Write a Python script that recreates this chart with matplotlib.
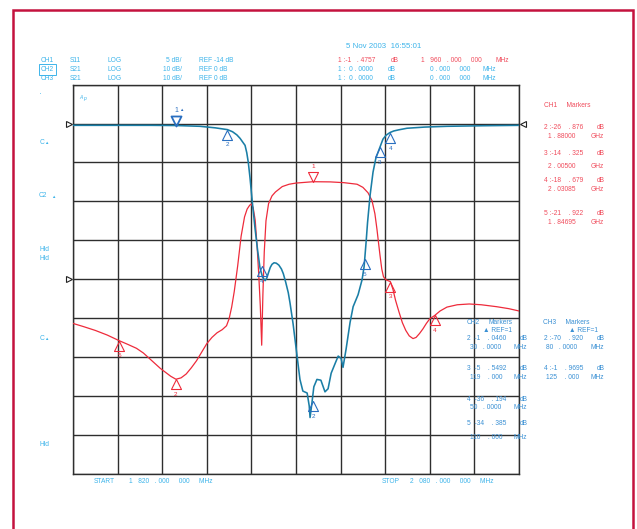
import matplotlib
matplotlib.use('Agg')
import matplotlib.pyplot as plt
import numpy as np
from matplotlib.path import Path
from matplotlib.patches import Rectangle
from matplotlib.transforms import blended_transform_factory

plt.rcParams['font.family'] = ['Liberation Sans', 'DejaVu Sans']

# ---------------- data ----------------
start_mhz, stop_mhz = 1820, 2080
ch1_ref_db, ch1_scale = -14, 5      # S11, 5 dB/div
ch2_ref_db, ch2_scale = 0, 10       # S21, 10 dB/div

s11_freq = [1820, 1826, 1833, 1840, 1846.95, 1852, 1857, 1861, 1865, 1868, 1871, 1874,
            1877, 1880, 1883, 1886, 1889, 1892, 1895, 1898, 1901, 1904, 1907, 1909.5,
            1911, 1912.5, 1914, 1916, 1918, 1920, 1921.5, 1923, 1924, 1925, 1926.2,
            1927.3, 1928.3, 1929.2, 1930.0, 1930.7, 1931.5, 1932.5, 1934, 1936, 1938,
            1942, 1946, 1950, 1960, 1970, 1978, 1985.6, 1989, 1992, 1994.3, 1996,
            1997.2, 1998.2, 1999, 2000, 2001, 2002.5, 2005, 2006.5, 2008, 2010, 2012,
            2014, 2016, 2018.2, 2020, 2022, 2024, 2026, 2028, 2030.85, 2034, 2038,
            2044, 2051, 2058, 2067, 2074, 2080]
s11_db = [-19.7, -20.1, -20.6, -21.2, -21.922, -22.4, -22.9, -23.5, -24.3, -24.9, -25.5, -26.0,
          -26.5, -26.876, -26.7, -26.2, -25.4, -24.5, -23.4, -22.3, -21.5, -20.9, -20.5, -20.0,
          -19.1, -17.6, -15.6, -12.3, -8.5, -6.0, -5.0, -4.5, -4.35, -4.8, -6.4,
          -9.7, -13.5, -17.5, -22.5, -16.0, -10.5, -6.5, -4.3, -3.3, -2.8,
          -2.1, -1.8, -1.65, -1.4757, -1.5, -1.6, -1.8, -2.2, -2.9, -3.9, -5.6,
          -7.6, -9.5, -11.0, -12.7, -13.7, -14.1, -14.325, -15.3, -16.7, -18.2, -19.6,
          -20.6, -21.3, -21.65, -21.5, -21.0, -20.4, -19.7, -19.1, -18.679, -18.1, -17.6,
          -17.3, -17.2, -17.3, -17.55, -17.8, -18.1]

s21_freq = [1820, 1840, 1865, 1880, 1894, 1903, 1910, 1913, 1915.5, 1917.4, 1919, 1920.3,
            1921.3, 1922.2, 1923.2, 1924.6, 1926.1, 1927.6, 1929.0, 1930.5, 1932.0, 1933,
            1934, 1935, 1936, 1937.2, 1938.5, 1940, 1941.5, 1942.6, 1944, 1945.5, 1946.5,
            1948.3, 1950.4, 1952.3, 1954, 1956.5, 1957.7, 1958.2, 1959.3, 1960.4, 1962.2,
            1964.5, 1965.7, 1966.9, 1968.7, 1970.5, 1972.9, 1974.6, 1976.3, 1977.4,
            1979.2, 1981.5, 1983.3, 1986.2, 1988.5, 1989.7, 1990.9, 1991.7, 1993.2,
            1994.9, 1996.5, 1997.8, 1999.0, 2000.7, 2002.5, 2004.8, 2007, 2010, 2014.7,
            2025, 2038, 2060, 2080]
s21_db = [-0.45, -0.45, -0.45, -0.5, -0.7, -1.1, -1.55, -2.1, -2.9, -3.8, -4.8, -5.6,
          -7.5, -10.0, -14.0, -20.5, -26.9, -32.5, -37.1, -39.5, -40.4, -39.7,
          -38.3, -37.0, -36.2, -35.8, -35.9, -36.4, -37.4, -38.6, -40.8, -43.5, -46.1,
          -51.5, -59.0, -65.8, -68.8, -69.3, -72.6, -75.6, -71.8, -67.7, -65.8,
          -66.0, -67.5, -69.0, -68.2, -64.2, -61.6, -59.8, -60.4, -62.7,
          -58.0, -51.2, -47.1, -44.0, -40.2, -36.8, -30.3, -25.5, -18.4,
          -12.5, -9.0, -7.4, -6.0, -4.0, -3.0, -2.3, -1.9, -1.6, -1.2,
          -0.9, -0.7, -0.55, -0.45]

# CH1 markers (absolute)
ch1_mk_no = ['1', '2', '3', '4', '5']
ch1_mk_freq = [1960, 1880, 2005, 2030.85, 1846.95]
ch1_mk_db = [-1.4757, -26.876, -14.325, -18.679, -21.922]

# CH2 / CH3 markers (delta to marker 1 at 1880 MHz)
mk1_freq, mk1_db = 1880, -0.5
ch2_mk_no = ['2', '3', '4', '5']
ch2_mk_dfreq = [30, 119, 50, 110]
ch2_mk_ddb = [-1.0460, -5.5492, -36.194, -34.385]
ch3_mk_no = ['2', '4']
ch3_mk_dfreq = [80, 125]
ch3_mk_ddb = [-70.920, -1.9695]

# ---------------- style ----------------
W, H = 637, 529
C_TXT = '#3db4ea'
C_TXT2 = '#3a90d4'
C_RED_T = '#f04c5c'
C_RED = '#ee2b3b'
C_BLUE = '#1a7ea6'
C_MK = '#2a6fc0'
C_GRID = '#2e2e2e'
C_BORDER = '#c4123e'
FS = 4.8

fig = plt.figure(figsize=(W / 100, H / 100), dpi=100)
fig.patch.set_facecolor('white')

def px(x, y):
    return x / W, 1 - y / H

def t(x, y, s, color=C_TXT, size=FS, ha='left', **kw):
    fig.text(*px(x, y), s, color=color, fontsize=size, ha=ha, va='center', **kw)

# outer border
fig.patches.append(Rectangle((12.5 / W, -0.05), 620 / W, 1 - 9.5 / H + 0.05,
                             transform=fig.transFigure, fill=False,
                             edgecolor=C_BORDER, lw=1.8))

# grid axes
top, bot, left, right = 84.7, 473.5, 73, 519
ax = fig.add_axes([left / W, 1 - bot / H, (right - left) / W, (bot - top) / H])
ax.set_xlim(start_mhz, stop_mhz)
ax.set_ylim(ch1_ref_db - 5 * ch1_scale, ch1_ref_db + 5 * ch1_scale)
ax.set_xticks(np.linspace(start_mhz, stop_mhz, 11))
ax.set_yticks(np.linspace(ch1_ref_db - 5 * ch1_scale, ch1_ref_db + 5 * ch1_scale, 11))
ax.grid(True, color=C_GRID, lw=1.0)
ax.tick_params(length=0, labelbottom=False, labelleft=False)
for s in ax.spines.values():
    s.set_color(C_GRID)
    s.set_linewidth(1.0)
ax.set_facecolor('white')

ax2 = ax.twinx()
ax2.set_ylim(ch2_ref_db - 9 * ch2_scale, ch2_ref_db + 1 * ch2_scale)
ax2.set_yticks([])
for s in ax2.spines.values():
    s.set_visible(False)

ax.plot(s11_freq, s11_db, color=C_RED, lw=0.9, zorder=3, solid_joinstyle='round')
ax2.plot(s21_freq, s21_db, color=C_BLUE, lw=1.15, zorder=3, solid_joinstyle='round')

up_tri = Path([(0, 0), (-0.5, -1), (0.5, -1), (0, 0)],
              [Path.MOVETO, Path.LINETO, Path.LINETO, Path.CLOSEPOLY])
dn_tri = Path([(0, 0), (-0.5, 1), (0.5, 1), (0, 0)],
              [Path.MOVETO, Path.LINETO, Path.LINETO, Path.CLOSEPOLY])

def marker(a, f, d, lab, color, down=False, lw=0.8, lsize=4.6):
    a.plot([f], [d], marker=dn_tri if down else up_tri, ms=14.4, mfc='none',
           mec=color, mew=lw, ls='none', zorder=5, clip_on=False)
    a.annotate(lab, (f, d), xytext=(0, 11 if down else -11), textcoords='offset points',
               ha='center', va='center', fontsize=lsize, color=color)

for n, f, d in zip(ch1_mk_no, ch1_mk_freq, ch1_mk_db):
    marker(ax, f, d, n, C_RED, down=(n == '1'))

marker(ax2, mk1_freq, mk1_db, '1', C_MK, down=True, lw=1.3, lsize=5)
ax2.annotate('\u25b2', (mk1_freq, mk1_db), xytext=(4, 11), textcoords='offset points',
             ha='center', va='center', fontsize=3.2, color=C_MK)
for n, df, dd in zip(ch2_mk_no, ch2_mk_dfreq, ch2_mk_ddb):
    marker(ax2, mk1_freq + df, mk1_db + dd, n, C_MK)
for n, df, dd in zip(ch3_mk_no, ch3_mk_dfreq, ch3_mk_ddb):
    marker(ax2, mk1_freq + df, mk1_db + dd, n, C_MK)

# reference position markers
trl = blended_transform_factory(ax.transAxes, ax.transData)
ax.plot([-0.009], [ch1_ref_db], marker='>', ms=4.5, mfc='white', mec='#222222',
        mew=0.8, transform=trl, clip_on=False, zorder=6)
trl2 = blended_transform_factory(ax2.transAxes, ax2.transData)
ax2.plot([-0.009], [ch2_ref_db], marker='>', ms=4.5, mfc='white', mec='#222222',
         mew=0.8, transform=trl2, clip_on=False, zorder=6)
ax2.plot([1.009], [ch2_ref_db], marker='<', ms=4.5, mfc='white', mec='#222222',
         mew=0.8, transform=trl2, clip_on=False, zorder=6)

# ---------------- header texts ----------------
t(345.7, 46.7, '5 Nov 2003  16:55:01', size=5.7)
rows = [('CH1', 'S11', 'LOG', '5 dB/', 'REF -14 dB', 60.7),
        ('CH2', 'S21', 'LOG', '10 dB/', 'REF 0 dB', 69.4),
        ('CH3', 'S21', 'LOG', '10 dB/', 'REF 0 dB', 78.2)]
for ch, sp, fmt, sc, ref, y in rows:
    if ch == 'CH2':
        fig.text(*px(41, y), ch, color=C_TXT, fontsize=FS, ha='left', va='center',
                 bbox=dict(boxstyle='square,pad=0.25', fc='none', ec=C_TXT, lw=0.7))
    else:
        t(41, y, ch)
    t(69.3, y, sp)
    t(107.3, y, fmt)
    t(181.7, y, sc, ha='right')
    t(199.3, y, ref)

t(338.3, 60.7, '1 :-1   . 4757', C_RED_T)
t(390.7, 60.7, 'dB', C_RED_T)
t(420.7, 60.7, '1   960   . 000     000', C_RED_T)
t(495, 60.7, 'MHz', C_RED_T)
for y in (69.4, 78.2):
    t(338.3, y, '1 :  0 . 0000')
    t(387.3, y, 'dB')
    t(430, y, '0 . 000     000')
    t(482.7, y, 'MHz')

# left soft labels
t(39.5, 95, '\u00b7', size=6)
t(79, 97.3, 'A', size=3.6, style='italic')
t(83, 98.5, 'p', size=3.6, style='italic')
t(39.7, 142.7, 'C')
t(44.5, 143.5, '\u25b2', size=3.2)
t(39, 195.7, 'C2')
t(51, 196.5, '\u25b2', size=3.2)
t(39, 249.3, 'Hld')
t(39, 258.3, 'Hld')
t(39.7, 338.7, 'C')
t(44.5, 339.5, '\u25b2', size=3.2)
t(39, 444.3, 'Hld')

# bottom
t(94, 481.5, 'START')
t(129.4, 481.5, '1   820   . 000     000     MHz')
t(381.8, 481.5, 'STOP')
t(410.5, 481.5, '2   080   . 000     000     MHz')

# CH1 markers block
t(544, 105.7, 'CH1     Markers', C_RED_T)
ch1_list = [('2 :-26    . 876', '1 . 88000', 127.7, 136.7),
            ('3 :-14    . 325', '2 . 00500', 153.3, 166.7),
            ('4 :-18    . 679', '2 . 03085', 180.5, 189.3),
            ('5 :-21    . 922', '1 . 84695', 213.3, 222.3)]
for a, b, y1, y2 in ch1_list:
    t(544, y1, a, C_RED_T)
    t(596.7, y1, 'dB', C_RED_T)
    t(548.3, y2, b, C_RED_T)
    t(591, y2, 'GHz', C_RED_T)

# CH2 markers block
t(466.7, 322.7, 'CH2', C_TXT2)
t(488.3, 322.7, 'Markers', C_TXT2)
t(482.7, 330.5, '\u25b2 REF=1', C_TXT2)
ch2_list = [('2  -1    . 0460', '30   . 0000', 339, 347.7),
            ('3  -5    . 5492', '119    . 000', 369, 377.7),
            ('4  -36    . 194', '50   . 0000', 399.3, 407.7),
            ('5  -34    . 385', '110    . 000', 423.3, 437.7)]
for a, b, y1, y2 in ch2_list:
    t(466.7, y1, a, C_TXT2)
    t(520, y1, 'dB', C_TXT2)
    t(470, y2, b, C_TXT2)
    t(513.3, y2, 'MHz', C_TXT2)

# CH3 markers block
t(543.3, 322.7, 'CH3     Markers', C_TXT2)
t(569.3, 330.5, '\u25b2 REF=1', C_TXT2)
ch3_list = [('2 :-70    . 920', '80   . 0000', 339, 347.7),
            ('4 :-1    . 9695', '125    . 000', 369, 377.7)]
for a, b, y1, y2 in ch3_list:
    t(544, y1, a, C_TXT2)
    t(596.7, y1, 'dB', C_TXT2)
    t(546, y2, b, C_TXT2)
    t(590.7, y2, 'MHz', C_TXT2)

fig.savefig('out.png', dpi=100, facecolor='white')
